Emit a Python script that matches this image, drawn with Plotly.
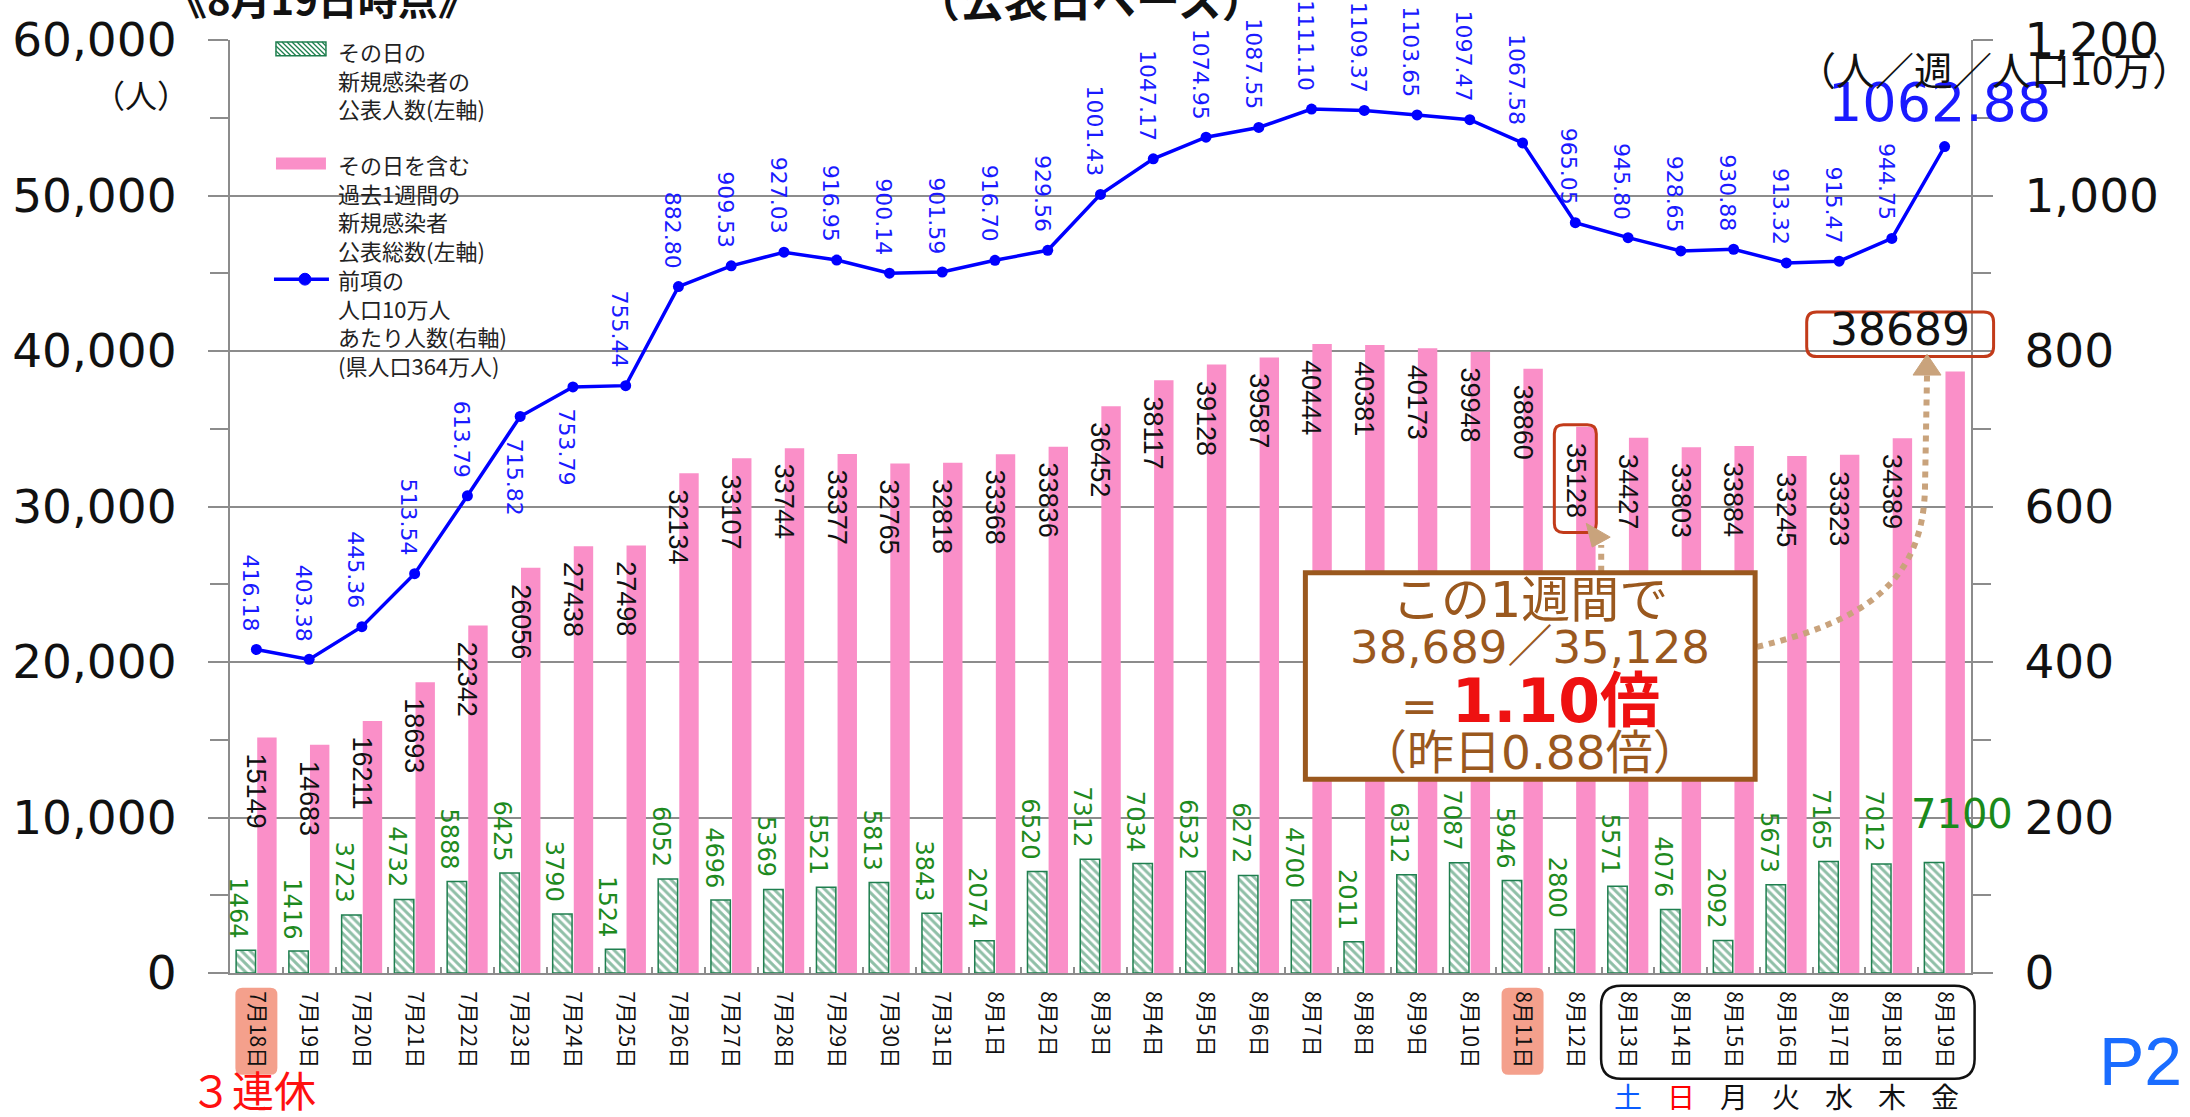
import plotly.graph_objects as go

# ---------------- data ----------------
dates = ["7月18日", "7月19日", "7月20日", "7月21日", "7月22日", "7月23日", "7月24日",
         "7月25日", "7月26日", "7月27日", "7月28日", "7月29日", "7月30日", "7月31日",
         "8月1日", "8月2日", "8月3日", "8月4日", "8月5日", "8月6日", "8月7日", "8月8日",
         "8月9日", "8月10日", "8月11日", "8月12日", "8月13日", "8月14日", "8月15日",
         "8月16日", "8月17日", "8月18日", "8月19日"]
daily_new = [1464, 1416, 3723, 4732, 5888, 6425, 3790, 1524, 6052, 4696, 5369, 5521,
             5813, 3843, 2074, 6520, 7312, 7034, 6532, 6272, 4700, 2011, 6312, 7087,
             5946, 2800, 5571, 4076, 2092, 5673, 7165, 7012, 7100]
weekly_total = [15149, 14683, 16211, 18693, 22342, 26056, 27438, 27498, 32134, 33107,
                33744, 33377, 32765, 32818, 33368, 33836, 36452, 38117, 39128, 39587,
                40444, 40381, 40173, 39948, 38860, 35128, 34427, 33803, 33884, 33245,
                33323, 34389, 38689]
per_100k = [416.18, 403.38, 445.36, 513.54, 613.79, 715.82, 753.79, 755.44, 882.80,
            909.53, 927.03, 916.95, 900.14, 901.59, 916.70, 929.56, 1001.43, 1047.17,
            1074.95, 1087.55, 1111.10, 1109.37, 1103.65, 1097.47, 1067.58, 965.05,
            945.80, 928.65, 930.88, 913.32, 915.47, 944.75, 1062.88]
left_max, left_step = 60000, 10000
right_max, right_step = 1200, 200
weekdays = ["土", "日", "月", "火", "水", "木", "金"]
weekday_colors = ["#0a5cff", "#ff0000", "#111", "#111", "#111", "#111", "#111"]
highlight_days = ["7月18日", "8月11日"]
rate_labels_below = {5, 6}
last_week_start = 26
ratio_prev_idx = 25

# ---------------- geometry helpers ----------------
W, H = 2190, 1117
ML, MR, MT, MB = 229, 219, 29, 144
PW, PH = W - ML - MR, H - MT - MB
N = len(dates)
BOT = H - MB


def pxp(x):
    return (x - ML) / PW


def pyp(y):
    return (BOT - y) / PH


def cat_px(i):
    return ML + (i + 0.5) * PW / N


def val_py(v, vmax=left_max):
    return BOT - v / vmax * PH


def rrect(x0, y0, x1, y1, r):
    return (f"M {pxp(x0 + r)},{pyp(y0)} L {pxp(x1 - r)},{pyp(y0)} "
            f"Q {pxp(x1)},{pyp(y0)} {pxp(x1)},{pyp(y0 + r)} L {pxp(x1)},{pyp(y1 - r)} "
            f"Q {pxp(x1)},{pyp(y1)} {pxp(x1 - r)},{pyp(y1)} L {pxp(x0 + r)},{pyp(y1)} "
            f"Q {pxp(x0)},{pyp(y1)} {pxp(x0)},{pyp(y1 - r)} L {pxp(x0)},{pyp(y0 + r)} "
            f"Q {pxp(x0)},{pyp(y0)} {pxp(x0 + r)},{pyp(y0)} Z")


def ppath(points, close=False):
    s = "M " + " L ".join(f"{pxp(x)},{pyp(y)}" for x, y in points)
    return s + (" Z" if close else "")


GREEN = "#1f7f4f"
PINK = "#fa8fc8"
BLUE = "#0000ff"
BROWN = "#9a581e"
TAN = "#c9a37c"
GRID = "#8c8c8c"
F_NUM = "DejaVu Sans, Noto Sans CJK JP"
F_AR = "Liberation Sans, Arial"
F_JP = "Noto Sans CJK JP"

fig = go.Figure()
fig.add_trace(go.Bar(
    x=dates, y=daily_new, name="その日の新規感染者の公表人数(左軸)",
    marker=dict(color="white", line=dict(color=GREEN, width=1.5),
                pattern=dict(shape="\\", fgcolor=GREEN, bgcolor="white", size=6, solidity=0.5)),
))
fig.add_trace(go.Bar(
    x=dates, y=weekly_total, name="その日を含む過去1週間の新規感染者公表総数(左軸)",
    marker=dict(color=PINK, line=dict(width=0)),
))
fig.add_trace(go.Scatter(
    x=dates, y=per_100k, yaxis="y2", mode="lines+markers", name="人口10万人あたり人数(右軸)",
    line=dict(color=BLUE, width=3.5), marker=dict(size=11, color=BLUE),
))

ann = []
shapes = []

# bar / point labels
for i in range(N - 1):
    ann.append(dict(x=dates[i], y=weekly_total[i], xref="x", yref="y", text=str(weekly_total[i]),
                    textangle=90, xanchor="center", yanchor="top", yshift=-14, showarrow=False,
                    font=dict(family=F_AR, size=27, color="#111")))
    ann.append(dict(x=dates[i], y=daily_new[i], xref="x", yref="y", text=str(daily_new[i]),
                    textangle=90, xanchor="center", yanchor="bottom", yshift=10, xshift=-18,
                    showarrow=False, font=dict(family=F_NUM, size=24, color="#1e8a1e")))
    below = i in rate_labels_below
    ann.append(dict(x=dates[i], y=per_100k[i], xref="x", yref="y2", text=f"{per_100k[i]:.2f}",
                    textangle=90, xanchor="center", yanchor="top" if below else "bottom",
                    yshift=-20 if below else 16, xshift=-6, showarrow=False,
                    font=dict(family=F_NUM, size=22, color="#1a1aff")))

# last-day labels
ann.append(dict(x=dates[-1], y=daily_new[-1], xref="x", yref="y", text=str(daily_new[-1]),
                xanchor="center", yanchor="bottom", yshift=24, xshift=17, showarrow=False,
                font=dict(family=F_NUM, size=40, color="#1a8a1a")))
ann.append(dict(x=dates[-1], y=per_100k[-1], xref="x", yref="y2", text=f"{per_100k[-1]:.2f}",
                xanchor="center", yanchor="middle", yshift=44, xshift=-5, showarrow=False,
                font=dict(family=F_NUM, size=54, color="#1a1aff")))
lx = cat_px(N - 1) - 45
ly = val_py(weekly_total[-1]) - 37
ann.append(dict(x=pxp(lx), y=pyp(ly - 5), xref="paper", yref="paper", text=str(weekly_total[-1]),
                xanchor="center", yanchor="middle", showarrow=False,
                font=dict(family=F_NUM, size=44, color="#111")))
shapes.append(dict(type="path", path=rrect(lx - 93, ly - 23, lx + 94, ly + 22, 10),
                   xref="paper", yref="paper", line=dict(color="#c23b1a", width=3), layer="above"))
# box around previous-week label
pcx = cat_px(ratio_prev_idx)
pty = val_py(weekly_total[ratio_prev_idx])
shapes.append(dict(type="path", path=rrect(pcx - 21, pty - 2, pcx + 21, pty + 107, 9),
                   xref="paper", yref="paper", line=dict(color="#c23b1a", width=3), layer="above"))

# dotted arrows
shapes.append(dict(type="path", path=ppath([(1601, 567), (1601, 540)]), xref="paper", yref="paper",
                   line=dict(color=TAN, width=6, dash="dot"), layer="above"))
shapes.append(dict(type="path", path=ppath([(1586, 518), (1592, 542), (1610, 532)], close=True),
                   xref="paper", yref="paper", line=dict(color=TAN, width=1), fillcolor=TAN, layer="above"))
curve = (f"M {pxp(1757)},{pyp(643)} C {pxp(1860)},{pyp(618)} {pxp(1924)},{pyp(580)} "
         f"{pxp(1925)},{pyp(480)} L {pxp(1927)},{pyp(368)}")
shapes.append(dict(type="path", path=curve, xref="paper", yref="paper",
                   line=dict(color=TAN, width=6, dash="dot"), layer="above"))
shapes.append(dict(type="path", path=ppath([(1927, 347), (1913, 368), (1941, 368)], close=True),
                   xref="paper", yref="paper", line=dict(color=TAN, width=1), fillcolor=TAN, layer="above"))

# ratio box
shapes.append(dict(type="rect", x0=pxp(1305), x1=pxp(1755), y0=pyp(568), y1=pyp(777),
                   xref="paper", yref="paper", line=dict(color=BROWN, width=5),
                   fillcolor="white", layer="above"))
box_lines = [
    ("この1週間で", 596, 49),
    ("38,689／35,128", 644, 45),
    (f"= <span style='color:#ee1111;font-size:60px'><b>1.10倍</b></span>", 698, 44),
    ("（昨日0.88倍）", 750, 47),
]
for txt, yy, fs in box_lines:
    ann.append(dict(x=pxp(1530), y=pyp(yy), xref="paper", yref="paper", text=txt,
                    xanchor="center", yanchor="middle", showarrow=False,
                    font=dict(family=F_NUM, size=fs, color=BROWN)))

# x-label decorations
for d in highlight_days:
    i = dates.index(d)
    c = cat_px(i)
    shapes.append(dict(type="path", path=rrect(c - 21, 988, c + 21, 1076, 7), xref="paper",
                       yref="paper", line=dict(width=0), fillcolor="#f4a08c", layer="below"))
shapes.append(dict(type="path", path=rrect(cat_px(last_week_start) - 27, 986, cat_px(N - 1) + 30, 1080, 20),
                   xref="paper", yref="paper", line=dict(color="#111", width=2.5), layer="above"))
for k, (wd, col) in enumerate(zip(weekdays, weekday_colors)):
    ann.append(dict(x=dates[last_week_start + k], y=pyp(1097), xref="x", yref="paper", text=wd,
                    xanchor="center", yanchor="middle", showarrow=False,
                    font=dict(family=F_JP, size=28, color=col)))
ann.append(dict(x=pxp(252), y=pyp(1090), xref="paper", yref="paper", text="３連休",
                xanchor="center", yanchor="middle", showarrow=False,
                font=dict(family=F_JP, size=42, color="#ff1010")))
ann.append(dict(x=pxp(2184), y=pyp(1062), xref="paper", yref="paper", text="P2",
                xanchor="right", yanchor="middle", showarrow=False,
                font=dict(family="Liberation Sans Narrow, Liberation Sans", size=68, color="#1a6cff")))

# axis units and title
ann.append(dict(x=pxp(140), y=pyp(84), xref="paper", yref="paper", text="（人）",
                xanchor="center", yanchor="middle", showarrow=False,
                font=dict(family=F_JP, size=32, color="#111")))
ann.append(dict(x=pxp(1994), y=pyp(57), xref="paper", yref="paper", text="（人／週／人口10万）",
                xanchor="center", yanchor="middle", showarrow=False,
                font=dict(family=F_JP, size=39, color="#111")))
ann.append(dict(x=pxp(322), y=pyp(-13), xref="paper", yref="paper", text="<b>《8月19日時点》</b>",
                xanchor="center", yanchor="middle", showarrow=False,
                font=dict(family=F_JP, size=40, color="#111")))
ann.append(dict(x=pxp(1090), y=pyp(-13), xref="paper", yref="paper", text="<b>（公表日ベース）</b>",
                xanchor="center", yanchor="middle", showarrow=False,
                font=dict(family=F_JP, size=44, color="#111")))

# legend (drawn manually)
lg_x0, lg_x1 = 275, 325
shapes.append(dict(type="rect", x0=pxp(lg_x0), x1=pxp(lg_x1), y0=pyp(31), y1=pyp(45),
                   xref="paper", yref="paper", line=dict(color=GREEN, width=1.5),
                   fillcolor="white", layer="above"))
segs = []
a = lg_x0 - 14
while a < lg_x1:
    t0 = max(0.0, (lg_x0 - a) / 14)
    t1 = min(1.0, (lg_x1 - a) / 14)
    if t0 < t1:
        segs.append(f"M {pxp(a + 14 * t0)},{pyp(31 + 14 * t0)} L {pxp(a + 14 * t1)},{pyp(31 + 14 * t1)}")
    a += 5
shapes.append(dict(type="path", path=" ".join(segs), xref="paper", yref="paper",
                   line=dict(color=GREEN, width=1.3), layer="above"))
shapes.append(dict(type="rect", x0=pxp(lg_x0), x1=pxp(lg_x1), y0=pyp(148), y1=pyp(160),
                   xref="paper", yref="paper", line=dict(width=0), fillcolor=PINK, layer="above"))
shapes.append(dict(type="line", x0=pxp(273), x1=pxp(328), y0=pyp(271), y1=pyp(271),
                   xref="paper", yref="paper", line=dict(color=BLUE, width=3.5), layer="above"))
shapes.append(dict(type="circle", x0=pxp(298), x1=pxp(310), y0=pyp(265), y1=pyp(277),
                   xref="paper", yref="paper", line=dict(color=BLUE, width=1), fillcolor=BLUE,
                   layer="above"))
legend_texts = [
    ("その日の<br>新規感染者の<br>公表人数(左軸)", 22),
    ("その日を含む<br>過去1週間の<br>新規感染者<br>公表総数(左軸)", 136),
    ("前項の<br>人口10万人<br>あたり人数(右軸)<br>(県人口364万人)", 253),
]
for txt, ytop in legend_texts:
    ann.append(dict(x=pxp(335), y=pyp(ytop), xref="paper", yref="paper", text=txt, align="left",
                    xanchor="left", yanchor="top", showarrow=False,
                    font=dict(family=F_JP, size=22, color="#222")))

fig.update_layout(
    width=W, height=H,
    margin=dict(l=ML, r=MR, t=MT, b=MB, pad=0),
    paper_bgcolor="white", plot_bgcolor="white",
    barmode="group", bargap=0.2, bargroupgap=0.08,
    showlegend=False,
    xaxis=dict(type="category", range=[-0.5, N - 0.5], showline=True, linecolor=GRID, linewidth=2,
               ticks="inside", ticklen=6, tickwidth=1.5, tickcolor=GRID, tickson="boundaries",
               tickangle=90, tickfont=dict(family=F_JP, size=21, color="#111"), showgrid=False,
               ticklabelstandoff=12),
    yaxis=dict(range=[0, left_max], tick0=0, dtick=left_step, tickformat=",", showgrid=True,
               gridcolor=GRID, gridwidth=2, zeroline=False, showline=True, linecolor=GRID,
               linewidth=2, ticks="outside", ticklen=20, tickwidth=2, tickcolor=GRID,
               minor=dict(dtick=left_step / 2, ticks="outside", ticklen=18, tickwidth=2,
                          tickcolor=GRID, showgrid=False),
               tickfont=dict(family=F_NUM, size=47, color="#111"), ticklabelstandoff=22),
    yaxis2=dict(range=[0, right_max], tick0=0, dtick=right_step, tickformat=",", overlaying="y",
                side="right", showgrid=False, zeroline=False, showline=True, linecolor=GRID,
                linewidth=2, ticks="outside", ticklen=20, tickwidth=2, tickcolor=GRID,
                minor=dict(dtick=right_step / 2, ticks="outside", ticklen=18, tickwidth=2,
                           tickcolor=GRID, showgrid=False),
                tickfont=dict(family=F_NUM, size=47, color="#111"), ticklabelstandoff=22),
    annotations=ann,
    shapes=shapes,
)

fig.write_html("out.html", config={"displayModeBar": False},
               post_script="document.body.style.margin='0';document.body.style.overflow='hidden';")
